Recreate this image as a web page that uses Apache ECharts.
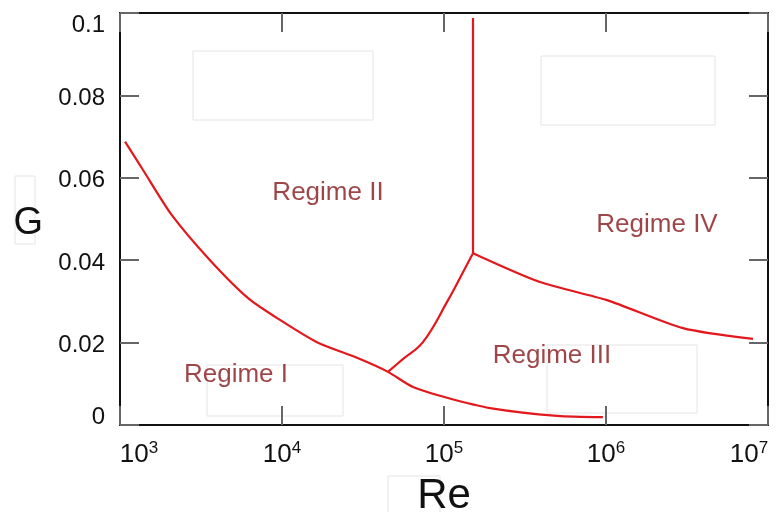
<!DOCTYPE html>
<html>
<head>
<meta charset="utf-8">
<script src="https://cdn.jsdelivr.net/npm/echarts@6/dist/echarts.min.js"></script>
<style>
  html, body { margin: 0; padding: 0; background: #fff; }
  #chart { width: 776px; height: 512px; }
</style>
</head>
<body>
<div id="chart"></div>
<script>
// regime boundaries, [Re, G]
const lowerBoundary = [
  [1074, 0.0688], [1387, 0.0619], [2084, 0.0510], [3594, 0.0400],
  [6173, 0.0308], [9720, 0.0255], [16440, 0.0201], [29040, 0.0163],
  [45100, 0.0129], [64400, 0.0092], [104400, 0.0066], [192300, 0.0041],
  [499000, 0.0022], [957000, 0.0019]
]
const midBoundary = [
  [45100, 0.0129], [55000, 0.0158], [74100, 0.0201], [105900, 0.0303],
  [131000, 0.0371], [151000, 0.0417]
]
const verticalBoundary = [[151000, 0.0417], [151000, 0.0988]]
const upperBoundary = [
  [151000, 0.0417], [391500, 0.0347], [1014000, 0.0303],
  [2985000, 0.0235], [8075000, 0.0209]
]
const regimeNames = ['Regime I', 'Regime II', 'Regime III', 'Regime IV']
const regimePos = [[5200, 0.0121], [19230, 0.0563], [464000, 0.0167], [2065000, 0.0485]]

const FONT = '"Liberation Sans", Arial, sans-serif'
const LINE = '#e3181c'
const TXT = '#86161a'

const xLabel = {
  margin: 15,
  formatter: v => {
    const p = Math.round(Math.log10(v))
    if (p === 3) return '{l|10}{s|' + p + '}'
    if (p === 7) return '{b|10}{r|' + p + '}'
    return '{b|10}{s|' + p + '}'
  },
  rich: {
    b: { fontSize: 26, fontFamily: FONT, color: '#111' },
    l: { fontSize: 26, fontFamily: FONT, color: '#111', padding: [0, 0, 0, 38] },
    s: { fontSize: 17, fontFamily: FONT, color: '#111', verticalAlign: 'top', padding: [0, 0, 12, 0] },
    r: { fontSize: 17, fontFamily: FONT, color: '#111', verticalAlign: 'top', padding: [0, 38, 12, 0] }
  }
}
const yLabel = {
  margin: 15,
  formatter: v => {
    const t = String(+v.toFixed(2))
    if (v === 0) return '{lo|' + t + '}'
    if (v > 0.099) return '{hi|' + t + '}'
    return '{n|' + t + '}'
  },
  rich: {
    n: { fontSize: 24, fontFamily: FONT, color: '#111', padding: [6, 0, 0, 0] },
    lo: { fontSize: 24, fontFamily: FONT, color: '#111', padding: [0, 0, 16, 0] },
    hi: { fontSize: 24, fontFamily: FONT, color: '#111', padding: [24, 0, 0, 0] }
  }
}
const innerTick = { show: true, inside: true, length: 19, lineStyle: { color: '#666', width: 2 } }
const blackLine = { show: true, onZero: false, lineStyle: { color: '#111', width: 2 } }

// faint leftover boxes in the source figure
const boxes = [
  [193, 51, 180, 69], [541, 56, 174, 69], [207, 365, 136, 51],
  [547, 345, 150, 68], [15, 176, 20, 68], [388, 476, 52, 40]
]

const option = {
  animation: false,
  grid: { left: 120, right: 8, top: 13, bottom: 87, containLabel: false, outerBoundsMode: 'none' },
  xAxis: [
    {
      type: 'log', logBase: 10, min: 1000, max: 10000000,
      position: 'bottom',
      name: 'Re', nameLocation: 'middle', nameGap: 50,
      nameTextStyle: { fontSize: 42, fontFamily: FONT, color: '#111' },
      axisLine: blackLine, axisTick: innerTick, splitLine: { show: false },
      axisLabel: xLabel
    },
    {
      type: 'log', logBase: 10, min: 1000, max: 10000000,
      position: 'top',
      axisLine: blackLine, axisTick: innerTick, splitLine: { show: false },
      axisLabel: { show: false }
    }
  ],
  yAxis: [
    {
      type: 'value', min: 0, max: 0.1, interval: 0.02,
      position: 'left',
      name: '{g|G}', nameLocation: 'middle', nameRotate: 0, nameGap: 77,
      nameTextStyle: {
        rich: { g: { fontSize: 38, fontFamily: FONT, color: '#111', padding: [10, 0, 0, 0] } }
      },
      axisLine: blackLine, axisTick: innerTick, splitLine: { show: false },
      axisLabel: yLabel
    },
    {
      type: 'value', min: 0, max: 0.1, interval: 0.02,
      position: 'right',
      axisLine: blackLine, axisTick: innerTick, splitLine: { show: false },
      axisLabel: { show: false }
    }
  ],
  graphic: boxes.map(b => ({
    type: 'rect', z: -1, silent: true,
    shape: { x: b[0], y: b[1], width: b[2], height: b[3] },
    style: { fill: 'none', stroke: '#e4e4e4', lineWidth: 1 }
  })),
  series: [
    ...[[lowerBoundary, 0.25], [midBoundary, 0.4], [verticalBoundary, 0], [upperBoundary, 0.25]].map(([d, sm]) => ({
      type: 'line', data: d, showSymbol: false, smooth: sm,
      lineStyle: { color: LINE, width: 2.2 }, z: 3
    })),
    {
      type: 'scatter', symbolSize: 0,
      data: regimeNames.map((n, i) => ({ name: n, value: regimePos[i] })),
      label: {
        show: true, position: 'inside', formatter: '{b}',
        fontSize: 26, fontFamily: FONT, color: TXT
      }
    }
  ]
}

const chart = echarts.init(document.getElementById('chart'))
chart.setOption(option)
</script>
</body>
</html>
